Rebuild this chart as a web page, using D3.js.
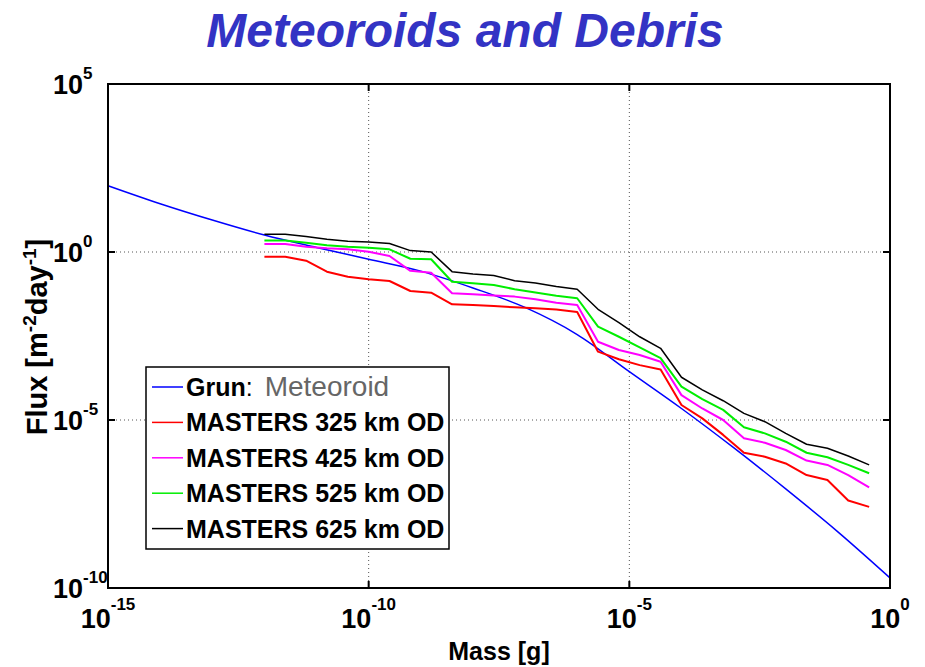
<!DOCTYPE html>
<html>
<head>
<meta charset="utf-8">
<script src="https://cdnjs.cloudflare.com/ajax/libs/d3/7.8.5/d3.min.js"></script>
<style>
  body { margin: 0; background: #fff; }
  svg { font-family: "Liberation Sans", Arial, sans-serif; }
</style>
</head>
<body>
<div id="chart"></div>
<script>
// ---- data ----
var grunMass = [1e-15, 1e-14, 1e-13, 1e-12, 1e-11, 1e-10, 1e-9, 1e-8, 1e-7, 1e-6, 1e-5, 1e-4, 1e-3, 1e-2, 1e-1, 1e0];
var grunFlux = [94, 27.4, 8.95, 3.2, 1.37, 0.61, 0.27, 0.085, 0.0224, 3.5e-3, 2.75e-4, 2.2e-5, 1.5e-6, 8.9e-8, 4.7e-9, 2.0e-10];

var mastersMass = [1e-12, 2.51e-12, 6.31e-12, 1.58e-11, 3.98e-11,
                   1e-10, 2.51e-10, 6.31e-10, 1.58e-9, 3.98e-9,
                   1e-8, 2.51e-8, 6.31e-8, 1.58e-7, 3.98e-7,
                   1e-6, 2.51e-6, 6.31e-6, 1.58e-5, 3.98e-5,
                   1e-4, 2.51e-4, 6.31e-4, 1.58e-3, 3.98e-3,
                   1e-2, 2.51e-2, 6.31e-2, 0.158, 0.398];

var flux325 = [0.72, 0.72, 0.55, 0.26, 0.184, 0.154, 0.137, 0.069, 0.0615, 0.0277,
               0.0265, 0.0247, 0.0226, 0.0211, 0.0193, 0.0164, 1.08e-3, 6.4e-4, 4.3e-4, 3.2e-4,
               2.8e-5, 1.12e-5, 3.6e-6, 1.06e-6, 8.1e-7, 5.1e-7, 2.3e-7, 1.64e-7, 4.0e-8, 2.6e-8];
var flux425 = [1.73, 1.73, 1.44, 1.29, 1.2, 1.02, 0.76, 0.275, 0.24, 0.059,
               0.055, 0.051, 0.047, 0.039, 0.031, 0.0265, 2.14e-3, 1.21e-3, 8.6e-4, 5.4e-4,
               5.5e-5, 2.2e-5, 1.0e-5, 2.85e-6, 2.1e-6, 1.28e-6, 6.2e-7, 4.6e-7, 2.3e-7, 9.9e-8];
var flux525 = [2.2, 2.2, 1.9, 1.6, 1.44, 1.34, 1.2, 0.63, 0.61, 0.13,
               0.117, 0.104, 0.078, 0.062, 0.050, 0.042, 6.0e-3, 3.0e-3, 1.46e-3, 6.9e-4,
               9.8e-5, 4.2e-5, 2.0e-5, 6.1e-6, 4.0e-6, 2.26e-6, 1.06e-6, 7.8e-7, 4.6e-7, 2.6e-7];
var flux625 = [3.4, 3.4, 2.9, 2.4, 2.1, 2.0, 1.8, 1.1, 1.0, 0.26,
               0.22, 0.20, 0.14, 0.12, 0.094, 0.078, 0.0197, 7.9e-3, 3.0e-3, 1.36e-3,
               1.87e-4, 7.9e-5, 3.75e-5, 1.58e-5, 8.9e-6, 4.0e-6, 1.9e-6, 1.45e-6, 8.5e-7, 4.6e-7];

var xTicks = [-15, -10, -5, 0];   // exponents
var yTicks = [5, 0, -5, -10];
var gridX = [-10, -5];
var gridY = [0, -5];

var series = [
    {name: "MASTERS 325 km OD", flux: flux325, color: "#ff0000", width: 2},
    {name: "MASTERS 425 km OD", flux: flux425, color: "#ff00ff", width: 2},
    {name: "MASTERS 525 km OD", flux: flux525, color: "#00ee00", width: 2},
    {name: "MASTERS 625 km OD", flux: flux625, color: "#000000", width: 1.5}
];

var width = 925, height = 667;
var plot = {left: 108, right: 890, top: 84, bottom: 588};

var svg = d3.select('#chart').append('svg')
    .attr('width', width)
    .attr('height', height);

var x = d3.scaleLog().domain([1e-15, 1]).range([plot.left, plot.right]);
var y = d3.scaleLog().domain([1e-10, 1e5]).range([plot.bottom, plot.top]);

// title
svg.append('text')
    .attr('x', 465).attr('y', 47)
    .attr('text-anchor', 'middle')
    .style('font-size', '48px')
    .style('font-weight', 'bold')
    .style('font-style', 'italic')
    .style('fill', '#3333c4')
    .text('Meteoroids and Debris');

// dotted grid
gridX.forEach(function (e) {
    svg.append('line')
        .attr('x1', x(Math.pow(10, e))).attr('x2', x(Math.pow(10, e)))
        .attr('y1', plot.top).attr('y2', plot.bottom)
        .style('stroke', '#555').style('stroke-width', 1)
        .style('stroke-dasharray', '1,3');
});
gridY.forEach(function (e) {
    svg.append('line')
        .attr('x1', plot.left).attr('x2', plot.right)
        .attr('y1', y(Math.pow(10, e))).attr('y2', y(Math.pow(10, e)))
        .style('stroke', '#555').style('stroke-width', 1)
        .style('stroke-dasharray', '1,3');
});

// tick marks on all four sides
var tl = 7;
xTicks.forEach(function (e) {
    var px = x(Math.pow(10, e));
    svg.append('line').attr('x1', px).attr('x2', px).attr('y1', plot.bottom).attr('y2', plot.bottom - tl)
        .style('stroke', '#000').style('stroke-width', 2);
    svg.append('line').attr('x1', px).attr('x2', px).attr('y1', plot.top).attr('y2', plot.top + tl)
        .style('stroke', '#000').style('stroke-width', 2);
});
yTicks.forEach(function (e) {
    var py = y(Math.pow(10, e));
    svg.append('line').attr('x1', plot.left).attr('x2', plot.left + tl).attr('y1', py).attr('y2', py)
        .style('stroke', '#000').style('stroke-width', 2);
    svg.append('line').attr('x1', plot.right).attr('x2', plot.right - tl).attr('y1', py).attr('y2', py)
        .style('stroke', '#000').style('stroke-width', 2);
});

// curves
var grunLine = d3.line()
    .x(function (d) { return x(d[0]); })
    .y(function (d) { return y(d[1]); })
    .curve(d3.curveMonotoneX);

svg.append('path')
    .datum(d3.zip(grunMass, grunFlux))
    .attr('d', grunLine)
    .style('fill', 'none')
    .style('stroke', '#0000ff')
    .style('stroke-width', 1.5);

var line = d3.line()
    .x(function (d) { return x(d[0]); })
    .y(function (d) { return y(d[1]); });

series.forEach(function (s) {
    svg.append('path')
        .datum(d3.zip(mastersMass, s.flux))
        .attr('d', line)
        .style('fill', 'none')
        .style('stroke', s.color)
        .style('stroke-width', s.width)
        .style('stroke-linejoin', 'round');
});

// axes box
svg.append('rect')
    .attr('x', plot.left).attr('y', plot.top)
    .attr('width', plot.right - plot.left).attr('height', plot.bottom - plot.top)
    .style('fill', 'none').style('stroke', '#000').style('stroke-width', 2);

// tick labels
xTicks.forEach(function (e) {
    var t = svg.append('text')
        .attr('x', x(Math.pow(10, e))).attr('y', 628)
        .attr('text-anchor', 'middle')
        .style('font-weight', 'bold');
    t.append('tspan').style('font-size', '27px').text('10');
    t.append('tspan').attr('dy', -18).style('font-size', '17px').text(String(e));
});
yTicks.forEach(function (e) {
    var t = svg.append('text')
        .attr('x', 53).attr('y', y(Math.pow(10, e)) + 10)
        .style('font-weight', 'bold');
    t.append('tspan').style('font-size', '27px').text('10');
    t.append('tspan').attr('dy', -15).style('font-size', '17px').text(String(e));
});

// axis labels
svg.append('text')
    .attr('x', 499).attr('y', 660)
    .attr('text-anchor', 'middle')
    .style('font-size', '25px').style('font-weight', 'bold')
    .text('Mass [g]');

var yl = svg.append('text')
    .attr('transform', 'translate(47,337) rotate(-90)')
    .attr('text-anchor', 'middle')
    .style('font-size', '29px').style('font-weight', 'bold');
yl.append('tspan').text('Flux [m');
yl.append('tspan').attr('dy', -11).style('font-size', '19px').text('-2');
yl.append('tspan').attr('dy', 11).text('day');
yl.append('tspan').attr('dy', -11).style('font-size', '19px').text('-1');
yl.append('tspan').attr('dy', 11).text(']');

// legend
var lg = svg.append('g');
lg.append('rect')
    .attr('x', 146).attr('y', 367).attr('width', 303).attr('height', 182)
    .style('fill', '#fff').style('stroke', '#000').style('stroke-width', 1.5);

var legendItems = [{name: 'Grun', color: '#0000ff'}].concat(series);
legendItems.forEach(function (s, i) {
    var cy = 387 + i * 35.4;
    lg.append('line')
        .attr('x1', 152).attr('x2', 183).attr('y1', cy).attr('y2', cy)
        .style('stroke', s.color).style('stroke-width', 1.5);
    var t = lg.append('text')
        .attr('x', 186).attr('y', cy + 9)
        .style('font-size', '25px').style('font-weight', 'bold')
        .text(s.name);
    if (i === 0) {
        t.append('tspan').style('font-weight', 'normal').text(':');
        t.append('tspan').attr('dx', 12)
            .style('font-weight', 'normal').style('font-size', '28px').style('fill', '#666')
            .text('Meteoroid');
    }
});
</script>
</body>
</html>
